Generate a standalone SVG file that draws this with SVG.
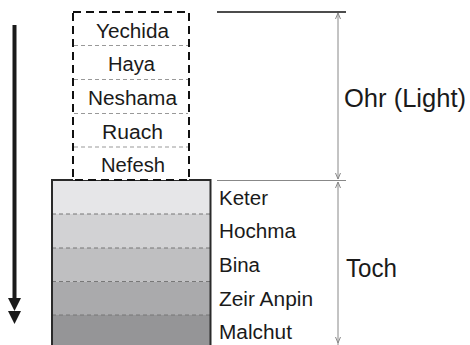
<svg xmlns="http://www.w3.org/2000/svg" width="470" height="345" viewBox="0 0 470 345">
<style>
  text { font-family: "Liberation Sans", Arial, sans-serif; fill: #1a1a1a; }
  .lbl { font-size: 20px; }
  .big { font-size: 25px; }
  .sep { stroke: #999; stroke-width: 1; stroke-dasharray: 4 3; fill: none; }
  .sep2 { stroke: #777; stroke-width: 1; stroke-dasharray: 4 3; fill: none; }
  .dim { stroke: #888; stroke-width: 1; fill: none; }
  .tick { stroke: #888; stroke-width: 1; fill: none; }
</style>
<rect width="470" height="345" fill="#fff"/>

<g id="lower-box">
  <rect x="52" y="180" width="158.5" height="34" fill="#e6e6e8"/>
  <rect x="52" y="214" width="158.5" height="34" fill="#d2d2d4"/>
  <rect x="52" y="248" width="158.5" height="33.5" fill="#bfbfc1"/>
  <rect x="52" y="281.5" width="158.5" height="33.5" fill="#aaaaac"/>
  <rect x="52" y="315" width="158.5" height="32" fill="#959597"/>
  <line class="sep2" x1="52" y1="214" x2="210" y2="214"/>
  <line class="sep2" x1="52" y1="248" x2="210" y2="248"/>
  <line class="sep2" x1="52" y1="281.5" x2="210" y2="281.5"/>
  <line class="sep2" x1="52" y1="315" x2="210" y2="315"/>
  <path d="M52,348 V180 H210.5 V348" fill="none" stroke="#2a2a2a" stroke-width="2"/>
</g>

<g id="upper-box">
  <rect x="73" y="12" width="116" height="168" fill="#fff"/>
  <line class="sep" x1="74" y1="45.5" x2="188" y2="45.5"/>
  <line class="sep" x1="74" y1="79.5" x2="188" y2="79.5"/>
  <line class="sep" x1="74" y1="113.5" x2="188" y2="113.5"/>
  <line class="sep" x1="74" y1="147" x2="188" y2="147"/>
  <rect x="73" y="12" width="116" height="168" fill="none" stroke="#111" stroke-width="2" stroke-dasharray="8 5"/>
</g>

<g id="upper-labels" text-anchor="middle">
  <text class="lbl" x="132.5" y="37.5" textLength="73" lengthAdjust="spacingAndGlyphs">Yechida</text>
  <text class="lbl" x="131.5" y="71" textLength="47" lengthAdjust="spacingAndGlyphs">Haya</text>
  <text class="lbl" x="132.5" y="105" textLength="89" lengthAdjust="spacingAndGlyphs">Neshama</text>
  <text class="lbl" x="132.5" y="138.5" textLength="61" lengthAdjust="spacingAndGlyphs">Ruach</text>
  <text class="lbl" x="133" y="171.5" textLength="64" lengthAdjust="spacingAndGlyphs">Nefesh</text>
</g>

<g id="lower-labels">
  <text class="lbl" x="219" y="204.5" textLength="49" lengthAdjust="spacingAndGlyphs">Keter</text>
  <text class="lbl" x="219" y="238" textLength="77" lengthAdjust="spacingAndGlyphs">Hochma</text>
  <text class="lbl" x="219" y="272" textLength="41" lengthAdjust="spacingAndGlyphs">Bina</text>
  <text class="lbl" x="219" y="305.5" textLength="94" lengthAdjust="spacingAndGlyphs">Zeir Anpin</text>
  <text class="lbl" x="219" y="339" textLength="73" lengthAdjust="spacingAndGlyphs">Malchut</text>
</g>

<g id="ohr-label">
  <text class="big" x="344" y="107" textLength="122" lengthAdjust="spacingAndGlyphs">Ohr (Light)</text>
</g>
<g id="toch-label">
  <text class="big" x="346" y="276.5" textLength="51" lengthAdjust="spacingAndGlyphs">Toch</text>
</g>

<g id="connectors">
  <line x1="217" y1="12" x2="346" y2="12" stroke="#111" stroke-width="1.3"/>
  <line x1="217" y1="180.5" x2="346" y2="180.5" stroke="#888" stroke-width="1"/>
  <line class="dim" x1="338" y1="13" x2="338" y2="179"/>
  <line class="dim" x1="338" y1="182" x2="338" y2="345"/>
  <path class="tick" d="M335.5,19 L338,13 L340.5,19"/>
  <path class="tick" d="M335.5,173 L338,179 L340.5,173"/>
  <path class="tick" d="M335.5,188 L338,182 L340.5,188"/>
  <path class="tick" d="M335.5,337 L338,343 L340.5,337"/>
  <line x1="14.5" y1="25" x2="14.5" y2="300" stroke="#1a1a1a" stroke-width="4"/>
  <path d="M8,298 L21,298 L14.5,311 Z" fill="#1a1a1a"/>
  <path d="M8,311 L21,311 L14.5,324 Z" fill="#1a1a1a"/>
</g>
</svg>
